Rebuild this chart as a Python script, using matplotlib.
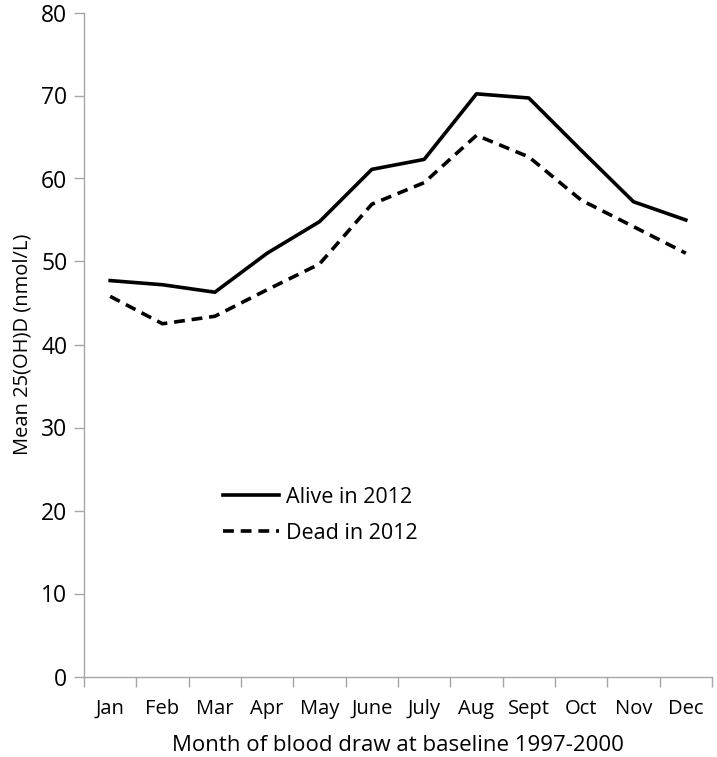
from matplotlib import pyplot as plt
import numpy as np

months = ["Jan", "Feb", "Mar", "Apr", "May", "June", "July", "Aug", "Sept", "Oct", "Nov", "Dec"]
alive = [47.7, 47.2, 46.3, 51.0, 54.8, 61.1, 62.3, 70.2, 69.7, 63.4, 57.2, 55.0]
dead = [45.8, 42.5, 43.4, 46.6, 49.7, 56.9, 59.5, 65.2, 62.6, 57.4, 54.2, 51.0]
names = ["Alive in 2012", "Dead in 2012"]


def main():
	plt.rcParams['font.family'] = ['Open Sans', 'DejaVu Sans']
	f = plt.figure(figsize=(7.17, 7.57), dpi=100)
	ax = f.add_axes([84 / 717, 1 - 676.5 / 757, 628 / 717, 664 / 757])

	x = np.arange(len(months))
	ax.plot(x, alive, color="black", lw=2.6, label=names[0])
	ax.plot(x, dead, color="black", lw=2.6, ls=(0, (3.0, 1.9)), label=names[1])

	ax.set_xlim(-0.5, len(months) - 0.5)
	ax.set_ylim(0, 80)
	ax.set_yticks(range(0, 81, 10))
	ax.set_xticks(x)
	ax.set_xticklabels(months, fontsize=14.5)
	ax.set_xticks(np.arange(-0.5, len(months)), minor=True)
	ax.tick_params(axis="x", which="major", length=0, pad=16)
	ax.tick_params(axis="x", which="minor", length=7, color="#a6a6a6", width=1)
	ax.tick_params(axis="y", length=7, color="#a6a6a6", width=1, labelsize=16.5, pad=5)

	for s in ["top", "right"]:
		ax.spines[s].set_visible(False)
	for s in ["left", "bottom"]:
		ax.spines[s].set_color("#a6a6a6")
		ax.spines[s].set_linewidth(1)

	ax.set_xlabel("Month of blood draw at baseline 1997-2000", fontsize=16, labelpad=12)
	ax.set_ylabel("Mean 25(OH)D (nmol/L)", fontsize=14.5, labelpad=6)

	ax.legend(loc="upper left", bbox_to_anchor=(0.19, 0.315), frameon=False,
		fontsize=15.5, handlelength=2.6, handletextpad=0.35, labelspacing=0.7)

	plt.savefig("out.png", dpi=100)


if __name__ == '__main__':
	main()
